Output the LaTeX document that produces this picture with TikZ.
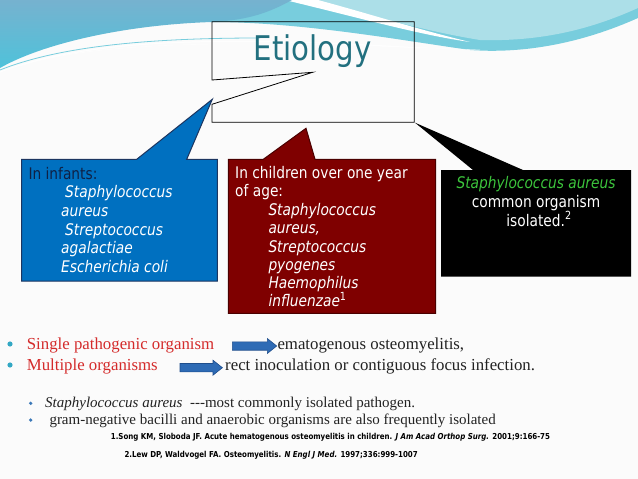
\documentclass[tikz,border=0pt]{standalone}
\usepackage{fontspec}
\setmainfont{Liberation Serif}
\newfontfamily\boxfont[FakeStretch=0.86]{DejaVu Sans}
\usetikzlibrary{calc}

\definecolor{pagebg}{HTML}{FBFBFB}
\definecolor{wavedeep}{HTML}{76B2CF}
\definecolor{wavecyan}{HTML}{4FC2DA}
\definecolor{wavelight}{HTML}{ACDFE8}
\definecolor{waveband}{HTML}{78CDDD}
\definecolor{titleteal}{HTML}{22707F}
\definecolor{infblue}{HTML}{0070C0}
\definecolor{infline}{HTML}{1C3560}
\definecolor{infnavy}{HTML}{0F2145}
\definecolor{chdred}{HTML}{7F0000}
\definecolor{chdline}{HTML}{4A0000}
\definecolor{isogreen}{HTML}{3CC43C}
\definecolor{mainred}{HTML}{D42B2B}
\definecolor{maintext}{HTML}{222222}
\definecolor{dotcyan}{HTML}{33A8C4}
\definecolor{dotblue}{HTML}{3A78B8}
\definecolor{arrowfill}{HTML}{2E6BB5}
\definecolor{arrowline}{HTML}{1F4E8C}

\tikzset{
  every node/.style={
    inner sep=0pt
  },
  boxtext/.style={
    anchor=base west,
    text=white,
    font=\boxfont\fontsize{16}{18}\selectfont
  },
  boxital/.style={
    boxtext,
    font=\boxfont\itshape\fontsize{16}{18}\selectfont
  },
  serifline/.style={
    anchor=base west,
    text=maintext,
    font=\fontsize{16.8}{20}\selectfont
  },
  smallline/.style={
    anchor=base west,
    text=maintext,
    font=\fontsize{15}{18}\selectfont
  },
  refline/.style={
    anchor=base west,
    text=black,
    font=\boxfont\bfseries\fontsize{8.2}{10}\selectfont
  },
  blockarrow/.style={
    fill=arrowfill,
    draw=arrowline,
    line width=0.6pt
  }
}

\begin{document}
\begin{tikzpicture}[x=1pt,y=-1pt]
    \useasboundingbox (0,0) rectangle (638,479);
    \fill[pagebg] (0,0) rectangle (638,479);

    % 背景の波
    \fill[waveband] (212,22) .. controls (300,22) and (400,40) .. (470,50)
        .. controls (540,55) and (600,35) .. (638,18) -- (638,0) -- (212,0) -- cycle;
    \fill[wavelight] (313,0) .. controls (380,18) and (430,32) .. (480,40)
        .. controls (550,42) and (600,25) .. (638,8) -- (638,0) -- cycle;
    \fill[white] (285,0) .. controls (360,18) and (420,35) .. (470,42)
        .. controls (420,30) and (370,14) .. (318,0) -- cycle;
    \shade[top color=wavedeep,bottom color=wavecyan] (0,0) -- (292,0)
        .. controls (270,12) and (250,20) .. (212,22)
        .. controls (120,25) and (40,45) .. (0,68) -- cycle;
    \draw[white,line width=1pt,opacity=0.8] (0,72) .. controls (80,42) and (200,34) .. (420,48);
    \draw[white,line width=0.6pt,opacity=0.7] (20,66) .. controls (100,40) and (250,40) .. (480,50);
    \draw[waveband,line width=0.8pt] (0,70) .. controls (60,46) and (150,38) .. (260,38);

    % タイトル
    \draw[black,line width=0.8pt] (212,21.7) -- (414.3,21.7) -- (414.3,122.3)
        -- (212,122.3) -- (212,104.3) -- (312.6,72.3) -- (212,80) -- cycle;
    \node[anchor=base,text=titleteal,font=\boxfont\fontsize{34}{40}\selectfont]
        (title) at (312.7,60) {Etiology};

    % 乳児
    \filldraw[fill=infblue,draw=infline,line width=1pt]
        (21.7,159.3) -- (136.7,159.3) -- (212.3,99.3) -- (186.7,159.3)
        -- (217.3,159.3) -- (217.3,281) -- (21.7,281) -- cycle;
    \node[boxtext,text=infnavy] (inf1) at (28.3,179) {In infants:};
    \node[boxital] (inf2) at (65,197.3) {Staphylococcus};
    \node[boxital] (inf3) at (61,216) {aureus};
    \node[boxital] (inf4) at (65,235) {Streptococcus};
    \node[boxital] (inf5) at (61,253.3) {agalactiae};
    \node[boxital] (inf6) at (61,272.7) {Escherichia coli};

    % 小児
    \filldraw[fill=chdred,draw=chdline,line width=1pt]
        (228.3,159.3) -- (263.3,159.3) -- (306,128.3) -- (315,159.3)
        -- (435.7,159.3) -- (435.7,313.3) -- (228.3,313.3) -- cycle;
    \node[boxtext] (chd1) at (235,178.3) {In children over one year};
    \node[boxtext] (chd2) at (235,196.7) {of age:};
    \node[boxital] (chd3) at (268.3,215) {Staphylococcus};
    \node[boxital] (chd4) at (268.3,233.3) {aureus,};
    \node[boxital] (chd5) at (268.3,252) {Streptococcus};
    \node[boxital] (chd6) at (268.3,270) {pyogenes};
    \node[boxital] (chd7) at (268.3,288.3) {Haemophilus};
    \node[boxital] (chd8) at (268.3,306.7) {influenzae\textsuperscript{\upshape 1}};

    % 黄色ブドウ球菌
    \fill[black] (441,170) -- (473,170) -- (415,122.7) -- (523,170)
        -- (631,170) -- (631,276.7) -- (441,276.7) -- cycle;
    \node[boxital,anchor=base,text=isogreen] (iso1) at (536,188.3) {Staphylococcus aureus};
    \node[boxtext,anchor=base] (iso2) at (536,207.3) {common organism};
    \node[boxtext,anchor=base] (iso3) at (539,226) {isolated.\textsuperscript{2}};

    % 箇条書き
    \fill[dotcyan] (10,344) circle (2.6);
    \fill[dotcyan] (10,365) circle (2.6);
    \node[serifline,text=mainred] (single) at (26.7,349.3) {Single pathogenic organism};
    \node[serifline,text=mainred] (multi) at (26.7,370) {Multiple organisms};
    \node[serifline] (hema) at (277.3,349.3) {ematogenous osteomyelitis,};
    \node[serifline] (direct) at (225,370) {rect inoculation or contiguous focus infection.};

    % 矢印
    \coordinate (a1s) at (232.3,346);
    \coordinate (a2s) at (180,367.7);
    \filldraw[blockarrow] (a1s) ++(0,-4.2) -- ++(35,0) -- ++(0,-3.3) -- ++(9.4,7.5)
        -- ++(-9.4,7.5) -- ++(0,-3.3) -- ++(-35,0) -- cycle;
    \filldraw[blockarrow] (a2s) ++(0,-4.2) -- ++(33,0) -- ++(0,-3.3) -- ++(9.4,7.5)
        -- ++(-9.4,7.5) -- ++(0,-3.3) -- ++(-33,0) -- cycle;

    % 小さい箇条書き
    \fill[dotblue] (30.7,403.3) circle (1.8);
    \fill[dotblue] (30.7,420) circle (1.8);
    \node[smallline] (staph) at (45,407.3)
        {\textit{Staphylococcus aureus}\ \ -{}-{}-most commonly isolated pathogen.};
    \node[smallline] (gram) at (49.3,424)
        {gram-negative bacilli and anaerobic organisms are also frequently isolated};

    % 文献
    \node[refline] (ref1) at (110.7,439)
        {1.Song KM, Sloboda JF. Acute hematogenous osteomyelitis in children. \textit{J Am Acad Orthop Surg.} 2001;9:166-75};
    \node[refline] (ref2) at (124.3,457.3)
        {2.Lew DP, Waldvogel FA. Osteomyelitis. \textit{N Engl J Med.} 1997;336:999-1007};
\end{tikzpicture}
\end{document}
